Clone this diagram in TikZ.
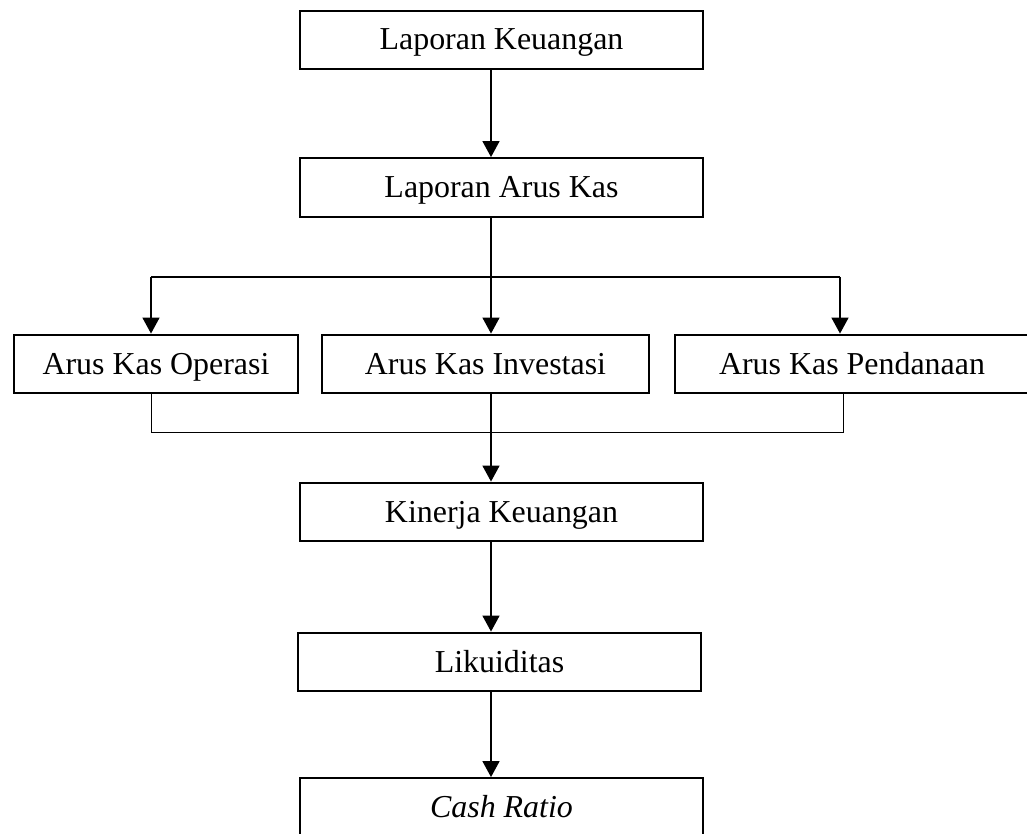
\documentclass[tikz,border=0pt]{standalone}
\usepackage{fontspec}
\setmainfont{Liberation Serif}
\usetikzlibrary{arrows.meta}
\begin{document}
\begin{tikzpicture}[x=.025cm,y=-.025cm,
  box/.style={draw,line width=1.4pt,inner sep=0pt,minimum height=1.47cm,
    text height=.6cm,text depth=.1cm,font=\fontsize{22.7}{27}\selectfont},
  arr/.style={line width=1.5pt,-{Triangle[width=.42cm,length=.4cm]}},
  thinline/.style={line width=.6pt}]
\useasboundingbox (0,0) rectangle (1027,834); \clip (0,0) rectangle (1027,834);
\node[box,minimum width=10.08cm] (lk) at (501.5,40) {Laporan Keuangan};
\node[box,minimum width=10.08cm] (lak) at (501.5,187.5) {Laporan Arus Kas};
\node[box,minimum width=7.1cm] (ako) at (156,364) {Arus Kas Operasi};
\node[box,minimum width=8.18cm] (aki) at (485.5,364) {Arus Kas Investasi};
\node[box,minimum width=8.85cm] (akp) at (852,364) {Arus Kas Pendanaan};
\node[box,minimum width=10.08cm] (kin) at (501.5,512) {Kinerja Keuangan};
\node[box,minimum width=10.08cm] (lik) at (499.5,662) {Likuiditas};
\node[box,minimum width=10.08cm] (cr) at (501.5,807.5) {\itshape Cash Ratio};
\coordinate (spine) at (491,0);
\coordinate (bl) at (151,277); \coordinate (br) at (840,277);
\coordinate (ml) at (151,432); \coordinate (mr) at (843,432);
\draw[arr] (lk.south -| spine) -- (lak.north -| spine);
\draw[arr] (lak.south -| spine) -- (aki.north -| spine);
\draw[line width=1.5pt] (bl) -- (br);
\draw[arr] (bl) -- (ako.north -| bl);
\draw[arr] (br) -- (akp.north -| br);
\draw[thinline] (ako.south -| ml) -- (ml) -- (mr) -- (akp.south -| mr);
\draw[arr] (aki.south -| spine) -- (kin.north -| spine);
\draw[arr] (kin.south -| spine) -- (lik.north -| spine);
\draw[arr] (lik.south -| spine) -- (cr.north -| spine);
\end{tikzpicture}
\end{document}
